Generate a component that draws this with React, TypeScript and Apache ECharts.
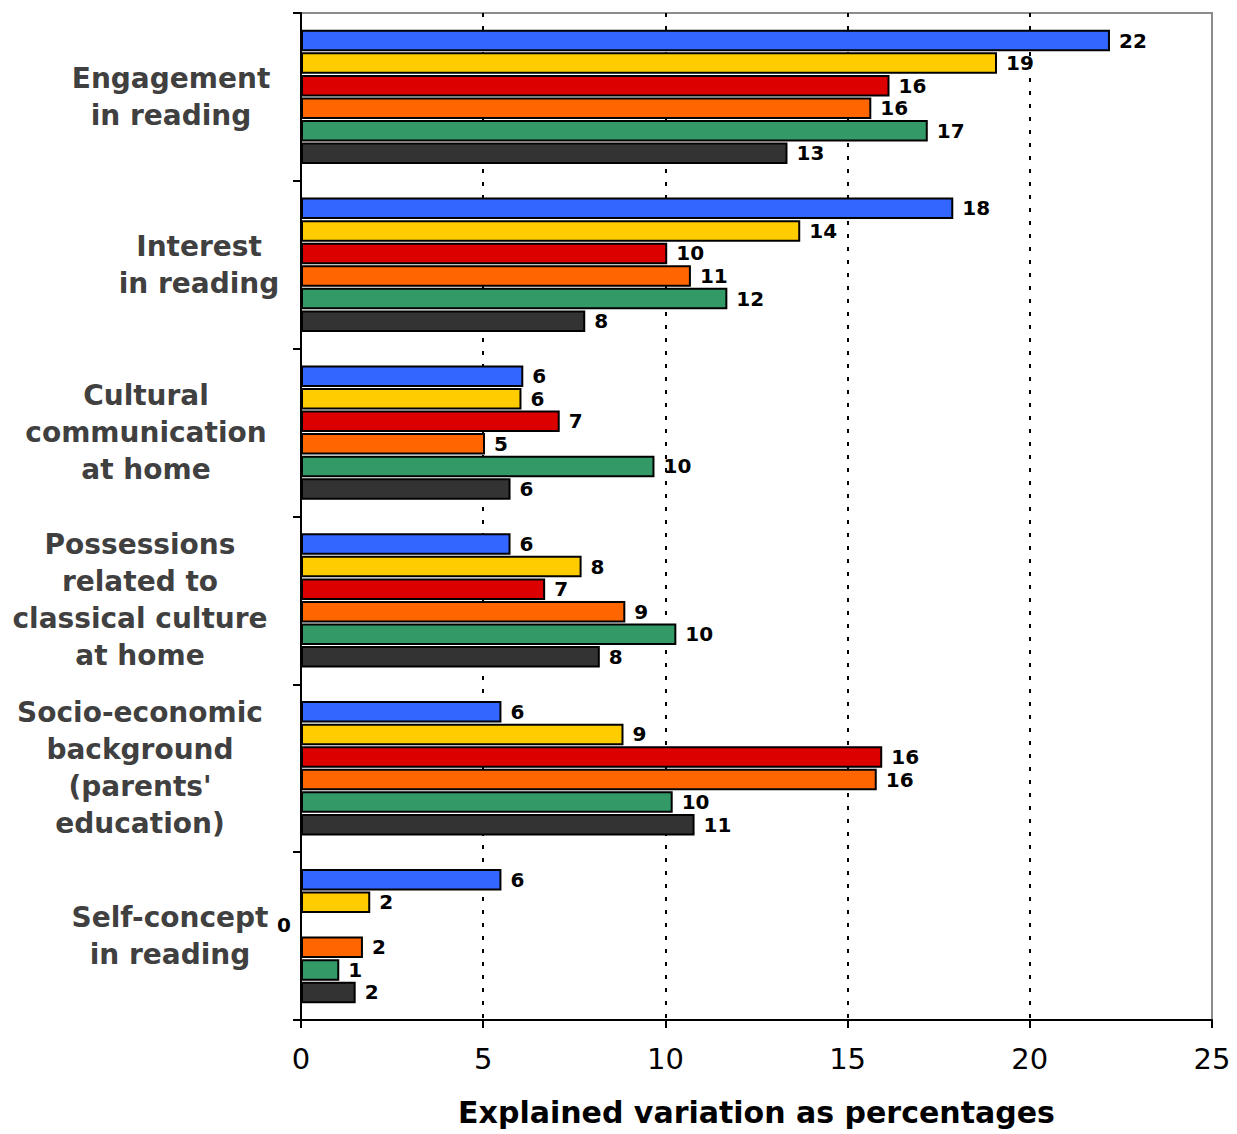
import React, { useEffect, useRef } from "react";
import * as echarts from "echarts";

const categories = [
  "Engagement\nin reading",
  "Interest\nin reading",
  "Cultural\ncommunication\nat home",
  "Possessions\nrelated to\nclassical culture\nat home",
  "Socio-economic\nbackground\n(parents'\neducation)",
  "Self-concept\nin reading",
];

// horizontal shift of each category label block (px, + = right)
const labelShift = [1, 29, -24, -30, -30, 0];

const seriesNames = ["Series 1", "Series 2", "Series 3", "Series 4", "Series 5", "Series 6"];
const seriesColors = ["#3366FF", "#FFCC00", "#DD0000", "#FF6600", "#339966", "#333333"];

const blueValues = [22.2, 17.9, 6.1, 5.75, 5.5, 5.5];
const yellowValues = [19.1, 13.7, 6.05, 7.7, 8.85, 1.9];
const redValues = [16.15, 10.05, 7.1, 6.7, 15.95, 0];
const orangeValues = [15.65, 10.7, 5.05, 8.9, 15.8, 1.7];
const greenValues = [17.2, 11.7, 9.7, 10.3, 10.2, 1.05];
const darkValues = [13.35, 7.8, 5.75, 8.2, 10.8, 1.5];

const allValues = [blueValues, yellowValues, redValues, orangeValues, greenValues, darkValues];

const xTicks = [0, 5, 10, 15, 20, 25];

export default function App() {
  const ref = useRef<HTMLDivElement>(null);
  useEffect(() => {
    if (!ref.current) return;
    const chart = echarts.init(ref.current, null, { renderer: "svg" });
    const yData = categories.map((c, i) => {
      const s = labelShift[i];
      return {
        value: c,
        textStyle: {
          align: "center",
          padding: s >= 0 ? [0, 0, 0, 2 * s] : [0, -2 * s, 0, 0],
        },
      };
    });
    const series = allValues.map((vals, si) => ({
      name: seriesNames[si],
      type: "bar",
      barCategoryGap: "20%",
      barGap: "5%",
      data: vals.map((v) =>
        v === 0
          ? {
              value: v,
              itemStyle: { borderWidth: 0 },
              label: { position: "left", distance: 10 },
            }
          : v
      ),
      itemStyle: { color: seriesColors[si], borderColor: "#000", borderWidth: 2 },
      label: {
        show: true,
        position: "right",
        distance: 9,
        color: "#000",
        fontFamily: "DejaVu Sans",
        fontWeight: "bold",
        fontSize: 20,
        formatter: (p: any) => String(Math.round(p.value)),
      },
    }));
    chart.setOption({
      animation: false,
      backgroundColor: "#fff",
      grid: {
        left: 301,
        right: 25,
        top: 13,
        bottom: 114,
        containLabel: false,
        outerBoundsMode: "none",
        show: true,
        borderColor: "#8c8c8c",
        borderWidth: 2,
        backgroundColor: "transparent",
      },
      xAxis: {
        type: "value",
        min: xTicks[0],
        max: xTicks[xTicks.length - 1],
        interval: 5,
        name: "Explained variation as percentages",
        nameLocation: "middle",
        nameGap: 77,
        nameTextStyle: {
          fontFamily: "DejaVu Sans",
          fontWeight: "bold",
          fontSize: 30,
          color: "#000",
        },
        axisLine: { show: true, lineStyle: { color: "#000", width: 2 } },
        axisTick: { show: true, length: 8, lineStyle: { color: "#000", width: 2 } },
        axisLabel: {
          margin: 24,
          fontFamily: "DejaVu Sans",
          fontSize: 29,
          color: "#000",
        },
        splitLine: {
          show: true,
          showMinLine: false,
          showMaxLine: false,
          lineStyle: { color: "#000", width: 2, type: [4, 9] },
        },
      },
      yAxis: {
        type: "category",
        inverse: true,
        data: yData,
        axisLine: { show: true, lineStyle: { color: "#000", width: 2 } },
        axisTick: { show: true, length: 8, interval: 0, lineStyle: { color: "#000", width: 2 } },
        axisLabel: {
          interval: 0,
          margin: 131,
          align: "center",
          verticalAlign: "middle",
          fontFamily: "DejaVu Sans",
          fontWeight: "bold",
          fontSize: 28,
          lineHeight: 37,
          color: "#404040",
        },
        splitLine: { show: false },
      },
      series,
    });
    return () => chart.dispose();
  }, []);
  return (
    <div
      ref={ref}
      style={{ position: "fixed", left: 0, top: 0, width: 1237, height: 1134, background: "#fff" }}
    />
  );
}
